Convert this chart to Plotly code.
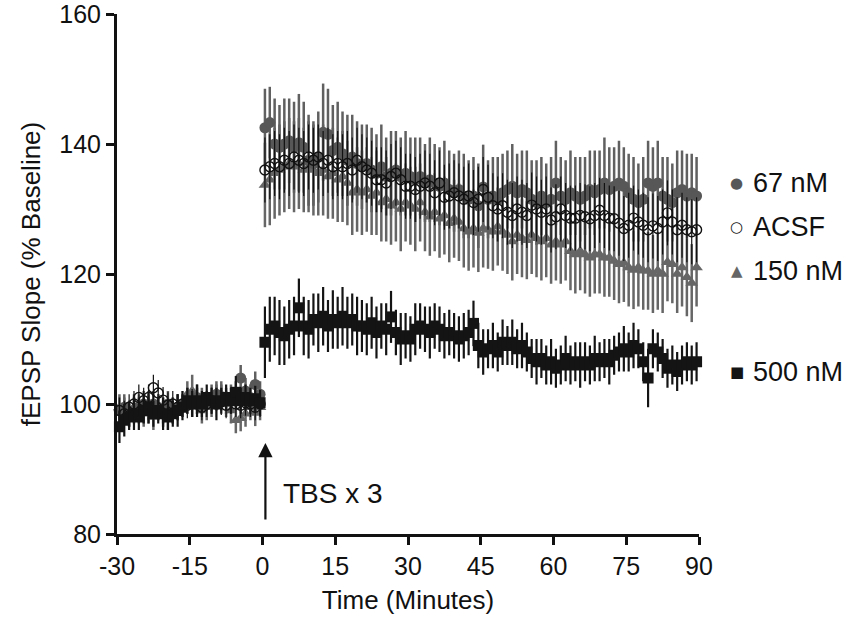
import numpy as np
import plotly.graph_objects as go

# ---------------- data ----------------
t_base = list(np.arange(-29.5, 0, 1.0))   # 30 baseline samples
t_post = list(np.arange(0.5, 90, 1.0))    # 90 post-TBS samples

x_ticks = [-30, -15, 0, 15, 30, 45, 60, 75, 90]
x_ticklabels = ["-30", "-15", "0", "15", "30", "45", "60", "75", "90"]
y_ticks = [80, 100, 120, 140, 160]

# 500 nM (black squares)
b500 = [96.5, 97.5, 98, 98.5, 98, 99, 99.5, 98.5, 99, 98.5, 98, 98.5, 99, 99.5, 100.5,
        100, 100.5, 100, 101, 100.5, 100, 100.5, 101, 100.5, 101.8, 100.5, 101, 100.5, 100.8, 100.2]
p500 = [109.5, 111.5, 112, 111, 110.5, 111.5, 112, 114.8, 112, 111.5,
        113, 112.5, 113.5, 112, 113, 112.5, 113.5, 112.5, 113, 112,
        112, 111.5, 112.5, 111, 112, 111.5, 113.4, 111, 110, 110.5,
        110, 111.5, 112, 111.5, 111, 112, 111.5, 110.5, 111, 110.5,
        110, 110.5, 111, 112.4, 109, 108, 108.5, 109, 108, 109.5,
        109, 109.5, 108.5, 109, 108, 107, 106.5, 107, 106, 106.5,
        105.5, 106, 107, 106, 106.5, 106, 106.5, 106, 107, 106.5,
        107, 106.5, 107.5, 108, 108.5, 108, 109, 108.5, 106.5, 104,
        108.5, 108, 107, 105.5, 106, 105, 106, 106.5, 106, 106.5]
eb500 = [2.5, 2.5, 2, 2.5, 2, 2, 2.5, 2, 2, 2.5, 2, 2, 2.5, 2, 2,
         2, 2.5, 2, 2, 2, 2.5, 2, 2, 2, 2.5, 2, 2, 2, 2, 2]
ep500 = [5.5, 5, 4.5, 5, 4.5, 4.5, 4.5, 4.5, 4.5, 4.5,
         4, 4.5, 4.5, 4, 4.5, 4, 4.5, 4, 4, 4.5,
         4, 4, 4, 4, 3.5, 4, 4, 3.5, 4, 3.5,
         3.5, 4, 3.5, 3.5, 4, 3.5, 3.5, 3.5, 3.5, 3.5,
         3.5, 3.5, 3.5, 3.5, 3.5, 3.5, 3, 3.5, 3, 3.5,
         3, 3.5, 3, 3.5, 3, 3, 3.5, 3, 3, 3.5,
         3, 3, 3.5, 3, 3, 3.5, 3, 3, 3.5, 3,
         3, 3.5, 3, 3, 3.5, 3, 3.5, 3, 3, 4.5,
         3, 3, 3, 3, 3, 3, 3, 3, 3, 3]

# 67 nM (grey filled circles)
b67 = [99, 99.5, 98.5, 99, 99.5, 100, 99.5, 100, 99.5, 99, 100, 99, 99.5, 100, 100.5,
       100, 101, 100.5, 100, 101, 101.5, 101, 100.5, 101, 101.5, 104, 102, 101, 103, 101.5]
p67 = [142.5, 143.3, 140, 139.5, 140, 140.5, 139.5, 140.2, 139.5, 137.5,
       137, 138, 141.8, 141.5, 139, 139.5, 138.5, 137.5, 138, 137,
       136.5, 137, 136, 135.5, 136.5, 135, 135.5, 136, 135, 135.5,
       135, 134.5, 135, 134, 134.5, 134, 133.5, 134, 133, 132.5,
       133, 132, 131.5, 132, 130.5, 133.4, 131.5, 132, 131.5, 132.5,
       133, 133.5, 132.5, 133, 132.5, 131.5, 131, 132, 131, 131.5,
       134, 132, 131.5, 132.5, 132, 131.5, 132, 133, 132.5, 133,
       134, 133, 133.5, 134, 133.5, 132.5, 131.5, 131, 131.5, 134,
       133.5, 134, 132, 131.5, 131, 132.5, 133, 132, 132.5, 132]
eb67 = [2, 2, 2, 2, 2, 2, 2, 2, 2, 2, 2, 2, 2, 2, 2,
        2, 2, 2, 2, 2, 2, 2, 2, 2, 2, 2, 2, 2, 2, 2]
ep67 = [6, 5.5, 7, 6.5, 7, 6.5, 7, 7.5, 7, 7,
        6.5, 7, 7.5, 7, 7, 7, 6.5, 7, 6.5, 6.5,
        6.5, 6, 6.5, 6, 6.5, 6, 6.5, 6, 6, 6.5,
        6, 6.5, 6, 6, 6.5, 6, 6, 6.5, 6, 6,
        6, 6.5, 6, 6, 6.5, 6.5, 6, 6, 6.5, 6,
        6, 6.5, 6, 6, 6.5, 6, 6.5, 6, 6, 6.5,
        6.5, 6, 6, 6.5, 6, 6.5, 6, 6, 6.5, 6,
        7, 6.5, 6, 6.5, 6, 6, 6.5, 6, 6.5, 6.5,
        6, 6.5, 6, 6.5, 6, 6.5, 6, 6.5, 6, 6]

# ACSF (open circles)
bac = [99, 98.5, 99.5, 100, 101, 100.5, 101, 102.5, 101.7, 100.6, 99.8, 100, 99.5, 100, 99.8,
       100.3, 100, 99.5, 100, 100.5, 100, 100.3, 99.8, 100.5, 100, 99.8, 100.2, 100, 99.5, 100]
pac = [136, 136.5, 137, 136.5, 137.5, 137, 138, 137.5, 137, 138,
       137.5, 138, 137, 137.5, 136.5, 137, 136.5, 137, 136, 137.5,
       136.5, 136, 135.5, 134.5, 134.5, 134, 135, 135.5, 134.5, 133.5,
       133.5, 133, 133.5, 134, 133.5, 132.5, 134, 131.8, 132, 132.5,
       132, 131.5, 132, 131, 131.5, 133, 131.8, 130.5, 130, 130.5,
       129.5, 129, 130, 129.5, 129, 130.6, 130, 129.5, 130, 128.3,
       128.8, 130, 129, 128.6, 128.6, 129, 128.8, 128.5, 129, 129.8,
       129, 128.6, 128.5, 127.8, 127, 127.5, 128.6, 128, 127.5, 126.8,
       127.4, 127, 128, 129.4, 128, 126.8, 127.5, 126.8, 126.5, 126.8]
ebac = [2, 2, 2, 2, 2, 2, 2, 2, 2, 2, 2, 2, 2, 2, 2,
        2, 2, 2, 2, 2, 2, 2, 2, 2, 2, 2, 2, 2, 2, 2]
epac = [5, 5, 5, 5, 5, 5, 5, 5, 5, 5, 5, 5, 5, 5, 5, 5, 5, 5, 5, 5,
        5, 5, 5, 5, 5, 5, 5, 5, 5, 5, 5, 5, 5, 5, 5, 5, 5, 5, 5, 5,
        5, 5, 5, 5, 5, 5, 5, 5, 5, 5, 5, 5, 5, 5, 5, 5, 5, 5, 5, 5,
        5, 5, 5, 5, 5, 5, 5, 5, 5, 5, 5, 5, 5, 5, 5, 5, 5, 5, 5, 5,
        5, 5, 5, 5, 5, 5, 5, 5, 5, 5]

# 150 nM (grey triangles)
b150 = [99.5, 99, 98.5, 99.5, 99, 98.5, 99, 98, 99.5, 98.5, 98, 99, 99.5, 100, 101.5,
        102, 100.5, 99, 99.5, 100, 101, 101.5, 100, 99, 97.5, 97.8, 98.5, 99.5, 98.6, 99.5]
p150 = [133.7, 134.5, 135.5, 136, 136.5, 137, 136.5, 137, 136, 136.5,
        136, 135.5, 136, 135, 135.5, 134.5, 135, 134, 132.5, 133,
        132.5, 133, 132, 132.5, 131, 131.5, 130.5, 131, 130, 131,
        130.5, 130, 131, 129.5, 128.8, 129.5, 128.5, 129, 127.8, 128.5,
        128, 127, 126.5, 127, 126.3, 127, 126.8, 126.5, 127.3, 126.5,
        126, 125, 126, 125.5, 125.2, 126, 125.5, 125, 125.5, 124.5,
        125, 124.5, 125, 123.5, 123, 123.5, 123, 122.5, 123, 123,
        122.5, 122.5, 122, 121.5, 121.7, 121, 120.6, 121, 120.5, 120.5,
        120, 120.5, 120, 121.8, 121.5, 120, 121, 119.5, 118.6, 121]
eb150 = [2, 2, 2, 2, 2, 2, 2, 2, 2, 2, 2, 2, 2, 2, 2,
         2.5, 2, 2, 2, 2, 2, 2, 2, 2, 2, 2, 2, 2, 2, 2]
ep150 = [6.5, 7, 7, 7, 7, 7, 7, 7, 6.5, 7,
         7, 6.5, 7, 6.5, 7, 6.5, 7, 6.5, 6.5, 6.5,
         6.5, 6.5, 6, 6.5, 6, 6.5, 6, 6, 6.5, 6,
         6, 6.5, 6, 6, 6, 6, 6, 6, 6, 6,
         6, 6, 6, 6, 6, 6, 6, 6, 6, 6,
         6, 6, 6, 6, 6, 6, 6, 6, 6, 6,
         6, 6, 6, 6, 6, 6, 6, 6, 6, 6,
         6, 6, 6, 6, 6, 6, 6, 6, 6, 6,
         6, 6, 6, 6, 6, 6, 6, 6, 6, 6]

series = [
    # name, base, post, err_base, err_post, symbol, color, errcolor, size, errwidth
    ("150 nM", b150, p150, eb150, ep150, "triangle-up", "#666666", "#666666", 11, 2.5),
    ("67 nM", b67, p67, eb67, ep67, "circle", "#575757", "#606060", 11, 2.5),
    ("ACSF", bac, pac, ebac, epac, "circle-open", "#111111", "#111111", 10, 1.2),
    ("500 nM", b500, p500, eb500, ep500, "square", "#141414", "#141414", 11, 2.2),
]

fig = go.Figure()
for name, yb, yp, eb, ep, sym, col, ecol, sz, ew in series:
    fig.add_trace(go.Scatter(
        x=t_base + t_post, y=yb + yp, mode="markers", name=name,
        marker=dict(symbol=sym, size=sz, color=col,
                    line=dict(color=col, width=1.4 if sym == "circle-open" else 0)),
        error_y=dict(type="data", array=eb + ep, visible=True, color=ecol,
                     thickness=ew, width=0),
        cliponaxis=False, showlegend=False,
    ))

font_main = "Liberation Sans, Arial, sans-serif"

# legend as annotations (non-uniform spacing as in the original)
legend_items = [
    ("67 nM", "●", "#575757", 134.0),
    ("ACSF", "○", "#111111", 127.2),
    ("150 nM", "▲", "#666666", 120.5),
    ("500 nM", "■", "#141414", 104.9),
]
for label, sym, col, yv in legend_items:
    fig.add_annotation(x=1.065, xref="paper", y=yv, yref="y", text=sym,
                       showarrow=False, xanchor="center", yanchor="middle",
                       font=dict(size=15, color=col, family="DejaVu Sans"))
    fig.add_annotation(x=1.09, xref="paper", y=yv, yref="y", text=label,
                       showarrow=False, xanchor="left", yanchor="middle",
                       font=dict(size=27, color="#111111", family=font_main))

# TBS arrow
fig.add_annotation(x=0.6, y=94.0, ax=0.6, ay=82.0, xref="x", yref="y",
                   axref="x", ayref="y", text="", showarrow=True,
                   arrowhead=2, arrowsize=1.3, arrowwidth=2.2, arrowcolor="#111111")
fig.add_annotation(x=3.8, y=86.3, xref="x", yref="y", text="TBS x 3",
                   showarrow=False, xanchor="left", yanchor="middle",
                   font=dict(size=28, color="#111111", family=font_main))

axis_common = dict(showline=True, linewidth=3, linecolor="#111111", ticks="outside",
                   ticklen=8, tickwidth=3, tickcolor="#111111", showgrid=False,
                   zeroline=False, mirror=False, ticklabeloverflow="allow",
                   tickfont=dict(size=25, color="#111111", family=font_main))

fig.update_xaxes(range=[-30, 90], tickvals=x_ticks, ticktext=x_ticklabels,
                 title=dict(text="Time (Minutes)", standoff=12,
                            font=dict(size=26, color="#111111", family=font_main)),
                 **axis_common)
fig.update_yaxes(range=[80, 160], tickvals=y_ticks,
                 title=dict(text="fEPSP Slope (% Baseline)", standoff=12,
                            font=dict(size=26, color="#111111", family=font_main)),
                 **axis_common)

fig.update_layout(width=856, height=623, plot_bgcolor="white", paper_bgcolor="white",
                  margin=dict(l=117, r=157, t=14, b=89, autoexpand=False))

fig.write_html("out.html", config={"displayModeBar": False},
               post_script="document.body.style.margin='0px';document.body.style.overflow='hidden';")
